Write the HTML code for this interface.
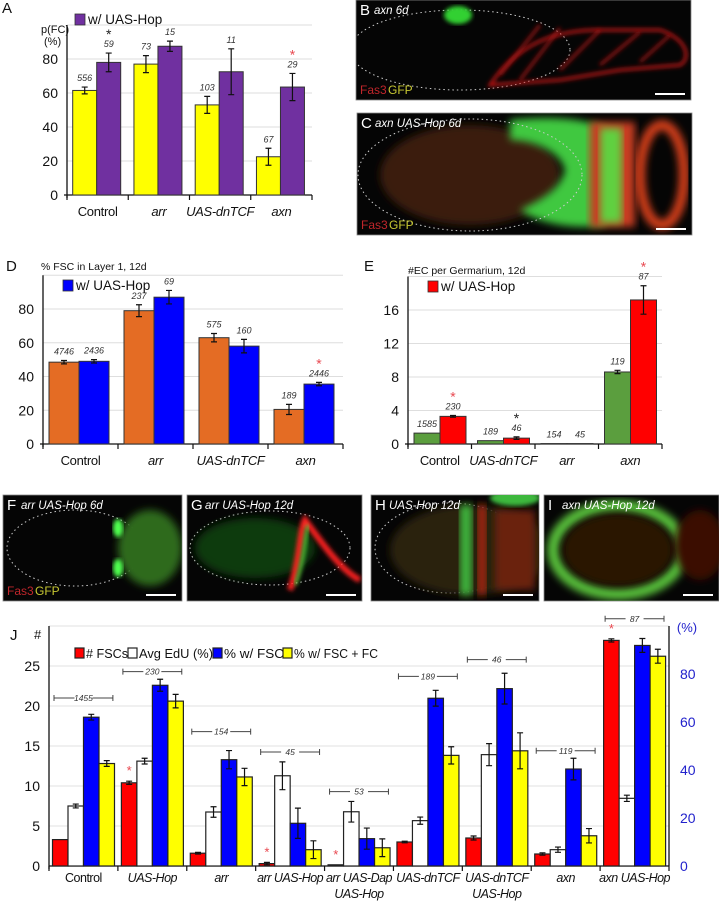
<!DOCTYPE html>
<html><head><meta charset="utf-8"><style>
html,body{margin:0;padding:0;background:#fff;}
svg{display:block;font-family:"Liberation Sans",sans-serif;}
</style></head><body>
<svg id="fig" width="719" height="903" viewBox="0 0 719 903" xmlns="http://www.w3.org/2000/svg">
<defs>
<filter id="blur2"><feGaussianBlur stdDeviation="2"/></filter>
<filter id="blur4"><feGaussianBlur stdDeviation="4"/></filter>
</defs>
<g id="charts"></g>
<g id="photos"></g>
</svg>
<script>
// ---------- Panel A data ----------
const A_categories = ["Control","arr","UAS-dnTCF","axn"];
const A_base = [61.5,77,53,22.5];
const A_hop = [78,87.5,72.5,63.5];
const A_baseErr = [2,5,5,5];
const A_hopErr = [5.5,3,13.5,8];
const A_baseN = ["556","73","103","67"];
const A_hopN = ["59","15","11","29"];
const A_ticks = [0,20,40,60,80];
// ---------- Panel D data ----------
const D_categories = ["Control","arr","UAS-dnTCF","axn"];
const D_base = [48.5,79,63,20.5];
const D_hop = [49,87,58,35.5];
const D_baseErr = [1,3.5,2.5,3];
const D_hopErr = [1,4,4,1];
const D_baseN = ["4746","237","575","189"];
const D_hopN = ["2436","69","160","2446"];
const D_ticks = [0,20,40,60,80];
// ---------- Panel E data ----------
const E_categories = ["Control","UAS-dnTCF","arr","axn"];
const E_base = [1.3,0.4,0.05,8.6];
const E_hop = [3.3,0.7,0.05,17.2];
const E_baseErr = [0,0,0,0.2];
const E_hopErr = [0.1,0.15,0,1.7];
const E_baseN = ["1585","189","154","119"];
const E_hopN = ["230","46","45","87"];
const E_ticks = [0,4,8,12,16];
// ---------- Panel J data ----------
const J_categories = [["Control"],["UAS-Hop"],["arr"],["arr UAS-Hop"],["arr UAS-Dap","UAS-Hop"],["UAS-dnTCF"],["UAS-dnTCF","UAS-Hop"],["axn"],["axn UAS-Hop"]];
const J_fsc = [3.3,10.4,1.6,0.3,0.15,3.0,3.5,1.5,28.2];
const J_fscErr = [0,0.2,0.1,0.15,0,0.1,0.25,0.15,0.2];
const J_edu = [25,43.7,22.5,37.6,22.6,18.9,46.4,6.8,28.2];
const J_eduErr = [0.8,1.2,2.2,5.8,4.3,1.5,4.6,1.1,1.3];
const J_wfsc = [62,75.3,44.3,17.8,11.4,69.9,73.9,40.4,91.9];
const J_wfscErr = [1.2,2.5,3.8,6.3,4.4,3.3,6.4,4.5,2.9];
const J_wfc = [42.7,68.7,37.1,6.8,7.6,46.1,48,12.6,87.4];
const J_wfcErr = [1.2,2.8,3.6,3.7,3.7,3.6,7.5,3,2.9];
const J_n = ["1455","230","154","45","53","189","46","119","87"];
const J_nY = [70,81,56,47.5,31,79,86,48,103];   // bracket height in % units
const J_leftTicks = [0,5,10,15,20,25];
const J_rightTicks = [0,20,40,60,80];

const NS="http://www.w3.org/2000/svg";
const root=document.getElementById('charts');
function mk(tag,attrs,parent){const e=document.createElementNS(NS,tag);for(const k in attrs)e.setAttribute(k,attrs[k]);(parent||root).appendChild(e);return e;}
function txt(s,x,y,size,attrs,parent){const t=mk('text',Object.assign({x:x,y:y,'font-size':size,fill:'#111'},attrs||{}),parent);t.textContent=s;return t;}

function errBar(g,cx,yTop,yBot){
  const l=mk('path',{d:`M${cx},${yTop}V${yBot}M${cx-3},${yTop}H${cx+3}M${cx-3},${yBot}H${cx+3}`,stroke:'#111','stroke-width':1.2,fill:'none'},g);
  
  
}

function pairChart(o){
  const g=mk('g',{});
  
  
  const y=v=>o.y0-v*o.ppu;
  const cw=(o.x1-o.x0)/o.cats.length;
  for(const gv of o.grid){const gl=mk('line',{x1:o.x0,x2:o.x1,y1:y(gv),y2:y(gv),stroke:'#dedede','stroke-width':1},g);
    
    }
  o.ticks.forEach(t=>{const tl=txt(String(t),o.x0-9,y(t)+5,14,{'text-anchor':'end'},g);
    
    });
  mk('line',{x1:o.x0,x2:o.x0,y1:y(o.grid[o.grid.length-1]),y2:o.y0+3,stroke:'#111','stroke-width':1.3},g);
  mk('line',{x1:o.x0-3,x2:o.x1,y1:o.y0,y2:o.y0,stroke:'#111','stroke-width':1.3},g);
  for(let i=0;i<=o.cats.length;i++){mk('line',{x1:o.x0+i*cw,x2:o.x0+i*cw,y1:o.y0,y2:o.y0+5,stroke:'#111','stroke-width':1.2},g);}
  o.cats.forEach((c,i)=>{
    const cx0=o.x0+i*cw+o.off;
    const series=[[o.base,o.baseErr,o.baseN,o.c1],[o.hop,o.hopErr,o.hopN,o.c2]];
    series.forEach((s,k)=>{
      const bx=cx0+k*o.bw, v=s[0][i], e=s[1][i];
      const r=mk('rect',{x:bx,y:y(v),width:o.bw,height:v*o.ppu,fill:s[3],stroke:'#333','stroke-width':1},g);
      
      
      if(e>0)errBar(g,bx+o.bw/2,y(v+e),y(v-e));
      const ty=y(v+e)-6;
      const nl=txt(s[2][i],bx+o.bw/2,ty,9,{'text-anchor':'middle','font-style':'italic',fill:'#333'},g);
      
      
      const star=(o.stars||[]).find(z=>z[0]===i&&z[1]===k);
      if(star){const st=txt('*',bx+o.bw/2,ty-8,14,{'text-anchor':'middle',fill:star[2]},g);
        
        }
    });
    const xl=txt(c,o.x0+(i+0.5)*cw,o.y0+21,13,{'text-anchor':'middle','font-style':c==='Control'?'normal':'italic','letter-spacing':'-0.3'},g);
    
    
  });
  const ls=mk('rect',{x:o.leg[0],y:o.leg[1]-10,width:10,height:11,fill:o.c2,stroke:'#333','stroke-width':0.8},g);
  
  
  const lt=txt('w/ UAS-Hop',o.leg[0]+13,o.leg[1],13.5,{},g);
  
  
  return g;
}

txt('A',2,13,15,{});
txt('p(FC)',41,33,11,{});
txt('(%)',44,45,11,{});
pairChart({name:'panel-a-chart',cats:A_categories,base:A_base,hop:A_hop,baseErr:A_baseErr,hopErr:A_hopErr,baseN:A_baseN,hopN:A_hopN,
  x0:67,x1:312,y0:195,ppu:1.7,grid:[20,40,60,80,100],ticks:A_ticks,off:5.7,bw:24,c1:'#ffff00',c2:'#7030a0',leg:[75,24],
  stars:[[0,1,'#222'],[3,1,'#e8474f']]});
txt('D',6,271,15,{});
txt('% FSC in Layer 1, 12d',41,270,10.5,{});
pairChart({name:'panel-d-chart',cats:D_categories,base:D_base,hop:D_hop,baseErr:D_baseErr,hopErr:D_hopErr,baseN:D_baseN,hopN:D_hopN,
  x0:43,x1:343,y0:444,ppu:1.6875,grid:[20,40,60,80,100],ticks:D_ticks,off:6,bw:30,c1:'#e46c24',c2:'#0000ff',leg:[63,290],
  stars:[[3,1,'#e8474f']]});
txt('E',364,271,15,{});
txt('#EC per Germarium, 12d',408,274,10.5,{});
pairChart({name:'panel-e-chart',cats:E_categories,base:E_base,hop:E_hop,baseErr:E_baseErr,hopErr:E_hopErr,baseN:E_baseN,hopN:E_hopN,
  x0:408,x1:662,y0:444,ppu:8.375,grid:[4,8,12,16,20],ticks:E_ticks,off:6,bw:26,c1:'#5b9e3e',c2:'#ff0000',leg:[428,291],
  stars:[[0,1,'#e8474f'],[1,1,'#222'],[3,1,'#e8474f']]});

(function(){
  const g=mk('g',{});
  
  
  const x0=49,x1=669,y0=866,ppu=8,ppp=2.4;
  const yl=v=>y0-v*ppu, yr=v=>y0-v*ppp;
  const cw=(x1-x0)/J_categories.length, bw=15.5, off=3.5;
  txt('J',10,640,15,{},g); txt('#',34,639,13,{},g);
  const pct=txt('(%)',687,632,13,{fill:'#2222cc','text-anchor':'middle'},g);
  
  
  for(let v=5;v<=30;v+=5){mk('line',{x1:x0,x2:x1,y1:yl(v),y2:yl(v),stroke:'#e0e0e0','stroke-width':1},g);}
  J_leftTicks.forEach(t=>{const l=txt(String(t),x0-9,yl(t)+5,14,{'text-anchor':'end'},g);
    
    });
  J_rightTicks.forEach(t=>{const l=txt(String(t),680,yr(t)+5,14,{fill:'#2222cc'},g);
    
    });
  mk('line',{x1:x0,x2:x0,y1:yl(30),y2:y0+3,stroke:'#111','stroke-width':1.3},g);
  mk('line',{x1:x1,x2:x1,y1:yl(30),y2:y0,stroke:'#111','stroke-width':1.3},g);
  mk('line',{x1:x0,x2:x1,y1:y0,y2:y0,stroke:'#111','stroke-width':1.3},g);
  for(let i=0;i<=J_categories.length;i++)mk('line',{x1:x0+i*cw,x2:x0+i*cw,y1:y0,y2:y0+5,stroke:'#111','stroke-width':1.2},g);
  const cols=['#ff0000','#ffffff','#0000ff','#ffff00'];
  const names=['bar-fsc-count','bar-avg-edu','bar-pct-w-fsc','bar-pct-w-fsc-fc'];
  J_categories.forEach((c,i)=>{
    const gx=x0+i*cw+off;
    const vals=[[J_fsc[i],J_fscErr[i],yl,ppu],[J_edu[i],J_eduErr[i],yr,ppp],[J_wfsc[i],J_wfscErr[i],yr,ppp],[J_wfc[i],J_wfcErr[i],yr,ppp]];
    vals.forEach((s,k)=>{
      const bx=gx+k*bw;
      const r=mk('rect',{x:bx,y:s[2](s[0]),width:bw,height:s[0]*s[3],fill:cols[k],stroke:'#222','stroke-width':1.2},g);
      
      
      if(s[1]>0)errBar(g,bx+bw/2,s[2](s[0]+s[1]),s[2](s[0]-s[1]));
    });
    const by=yr(J_nY[i]), bl=x0+i*cw+5, br=x0+(i+1)*cw-5, mid=(bl+br)/2;
    const bk=mk('path',{d:`M${bl},${by}H${mid-9}M${mid+9},${by}H${br}M${bl},${by-3}V${by+3}M${br},${by-3}V${by+3}`,stroke:'#444','stroke-width':1,fill:'none'},g);
    
    
    const nt=txt(J_n[i],mid,by+3,8.5,{'text-anchor':'middle','font-style':'italic',fill:'#333'},g);
    
    
    c.forEach((line,li)=>{const xl=txt(line,x0+(i+0.5)*cw,882+li*16,12.5,{'text-anchor':'middle','font-style':line==='Control'?'normal':'italic','letter-spacing':'-0.5'},g);
      
      });
  });
  [1,3,4,8].forEach(i=>{
    const bx=x0+i*cw+off+bw/2;
    const st=txt('*',bx,yl(J_fsc[i]+J_fscErr[i])-6,13,{'text-anchor':'middle',fill:'#e8474f'},g);
    
    
  });
  const leg=[['# FSCs',75,cols[0],42],['Avg EdU (%)',128,cols[1],74],['% w/ FSC',213,cols[2],60],['% w/ FSC + FC',283,cols[3],84]];
  leg.forEach(l=>{
    const s=mk('rect',{x:l[1],y:648,width:9,height:10,fill:l[2],stroke:'#222','stroke-width':1.2},g);
    
    
    const t=txt(l[0],l[1]+11,658,13,{textLength:l[3],lengthAdjust:'spacingAndGlyphs'},g);
    
    
  });
})();

const P=document.getElementById('photos');
function photo(name,x,y,w,h,label,title,blobs,legendFas){
  const g=mk('g',{},P);
  
  
  mk('rect',{x:x,y:y,width:w,height:h,fill:'#050505',stroke:'#888','stroke-width':0.8},g);
  const cp='cp'+name; const c=mk('clipPath',{id:cp},g); mk('rect',{x:x,y:y,width:w,height:h},c);
  const bg=mk('g',{'clip-path':`url(#${cp})`},g);
  blobs.forEach(b=>{mk(b[0],Object.assign({},b[1]),bg);});
  txt(label,x+4,y+15,15,{fill:'#fff'},g);
  txt(title,x+18,y+14,11.5,{fill:'#fff','font-style':'italic'},g);
  if(legendFas){txt('Fas3',x+4,y+h-6,12,{fill:'#c0262b'},g);txt('GFP',x+32,y+h-6,12,{fill:'#c8c832'},g);}
  mk('line',{x1:x+w-36,x2:x+w-6,y1:y+h-6,y2:y+h-6,stroke:'#fff','stroke-width':2},g);
}
const dot={fill:'none',stroke:'#ccc','stroke-width':1,'stroke-dasharray':'1.5 3'};
photo('panel-b-image',356,0,335,100,'B','axn 6d',[
  ['ellipse',Object.assign({cx:460,cy:50,rx:110,ry:40},dot)],
  ['path',{d:'M490,85 C520,40 560,30 600,30 L660,30 C690,40 690,60 680,65 L620,70 L560,80 Z',fill:'none',stroke:'#c01818','stroke-width':3,filter:'url(#blur2)'}],
  ['path',{d:'M500,75 L540,25 M520,80 L560,28 M560,70 L600,30 M600,65 L640,32 M640,62 L670,35',stroke:'#b01515','stroke-width':2.5,filter:'url(#blur2)'}],
  ['ellipse',{cx:458,cy:15,rx:14,ry:9,fill:'#30d030',filter:'url(#blur2)'}]
],true);
photo('panel-c-image',357,113,335,122,'C','axn UAS-Hop 6d',[
  ['ellipse',{cx:470,cy:175,rx:90,ry:50,fill:'#3a1a08',filter:'url(#blur4)'}],
  ['path',{d:'M510,120 C560,115 590,120 610,130 L605,225 C580,230 540,225 520,210 C540,200 560,190 565,170 C560,150 530,140 510,140 Z',fill:'#3fc83f',filter:'url(#blur4)'}],
  ['rect',{x:590,y:122,width:45,height:105,fill:'#c83c20',filter:'url(#blur4)'}],
  ['rect',{x:600,y:128,width:22,height:95,fill:'#60d040',filter:'url(#blur4)'}],
  ['ellipse',{cx:662,cy:175,rx:22,ry:50,fill:'none',stroke:'#d8401a','stroke-width':10,filter:'url(#blur4)'}],
  ['ellipse',Object.assign({cx:470,cy:175,rx:112,ry:56},dot)]
],true);
photo('panel-f-image',3,495,179,106,'F','arr UAS-Hop 6d',[
  ['ellipse',Object.assign({cx:75,cy:548,rx:68,ry:38},dot)],
  ['ellipse',{cx:150,cy:548,rx:32,ry:38,fill:'#2d6a1e',filter:'url(#blur4)'}],
  ['ellipse',{cx:118,cy:528,rx:5,ry:9,fill:'#50ff50',filter:'url(#blur2)'}],
  ['ellipse',{cx:118,cy:568,rx:5,ry:9,fill:'#50ff50',filter:'url(#blur2)'}]
],true);
photo('panel-g-image',187,495,175,106,'G','arr UAS-Hop 12d',[
  ['ellipse',Object.assign({cx:270,cy:548,rx:80,ry:37},dot)],
  ['ellipse',{cx:255,cy:548,rx:60,ry:30,fill:'#0d3a0d',filter:'url(#blur4)'}],
  ['path',{d:'M290,590 C300,560 300,530 305,520 C320,540 340,570 360,580',fill:'none',stroke:'#ff2020','stroke-width':6,filter:'url(#blur2)'}],
  ['path',{d:'M295,585 C305,560 305,535 308,525',fill:'none',stroke:'#50e040','stroke-width':3,filter:'url(#blur2)'}]
],false);
photo('panel-h-image',371,495,168,106,'H','UAS-Hop 12d',[
  ['ellipse',Object.assign({cx:450,cy:548,rx:75,ry:45},dot)],
  ['ellipse',{cx:470,cy:550,rx:80,ry:45,fill:'#2a200a',filter:'url(#blur4)'}],
  ['rect',{x:460,y:505,width:12,height:90,fill:'#3cb83c',filter:'url(#blur4)'}],
  ['rect',{x:478,y:505,width:8,height:90,fill:'#b02810',filter:'url(#blur4)'}],
  ['rect',{x:495,y:510,width:40,height:80,fill:'#6a2410',filter:'url(#blur4)'}],
  ['ellipse',{cx:515,cy:498,rx:25,ry:8,fill:'#3cb83c',filter:'url(#blur2)'}]
],false);
photo('panel-i-image',544,495,175,106,'I','axn UAS-Hop 12d',[
  ['ellipse',{cx:618,cy:550,rx:65,ry:44,fill:'none',stroke:'#58c03a','stroke-width':12,filter:'url(#blur4)'}],
  ['ellipse',{cx:618,cy:550,rx:55,ry:36,fill:'#2a1205',filter:'url(#blur4)'}],
  ['ellipse',{cx:700,cy:545,rx:25,ry:35,fill:'#3a0d05',filter:'url(#blur4)'}]
],false);
</script>
</body></html>
